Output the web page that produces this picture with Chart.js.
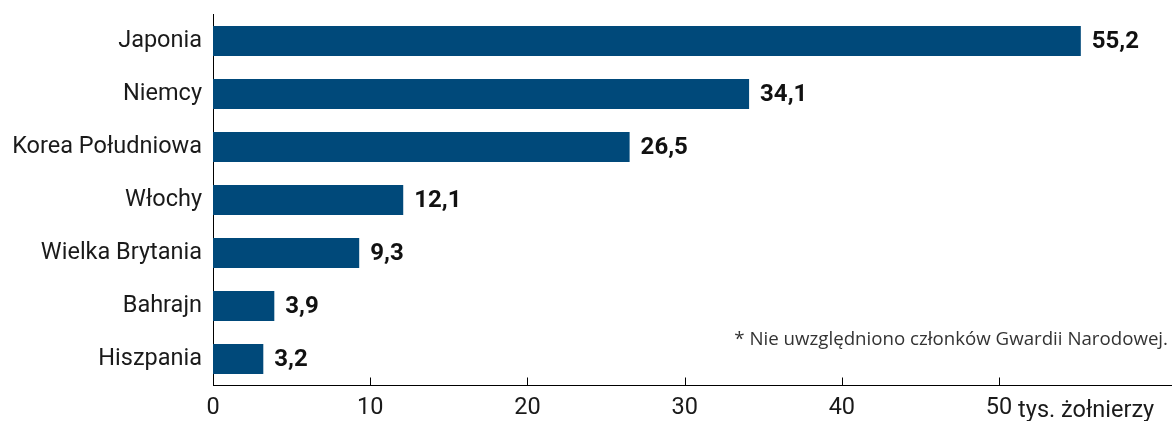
<!DOCTYPE html>
<html>
<head>
<meta charset="utf-8">
<script src="https://cdn.jsdelivr.net/npm/chart.js@4.4.1/dist/chart.umd.min.js"></script>
<style>
html,body{margin:0;padding:0;background:#fff;}
#wrap{width:1172px;height:421px;position:relative;}
</style>
</head>
<body>
<div id="wrap"><canvas id="c" width="1172" height="421"></canvas></div>
<script>
const categories = ["Japonia", "Niemcy", "Korea Południowa", "Włochy", "Wielka Brytania", "Bahrajn", "Hiszpania"];
const values = [55.2, 34.1, 26.5, 12.1, 9.3, 3.9, 3.2];
const tickValues = [0, 10, 20, 30, 40, 50];
const unitSuffix = " tys. żołnierzy";
const footnote = "* Nie uwzględniono członków Gwardii Narodowej.";

const BAR_COLOR = "#00497a";
const TEXT_COLOR = "#1a1a1a";
const LABEL_SIZE = 23.5;

const fmt = v => v.toFixed(1).replace(".", ",");

const overlay = {
  id: "overlay",
  afterDatasetsDraw(chart) {
    const ctx = chart.ctx;
    const meta = chart.getDatasetMeta(0);
    ctx.save();
    ctx.font = "bold 24px Roboto";
    ctx.fillStyle = "#111";
    ctx.textBaseline = "middle";
    ctx.textAlign = "left";
    meta.data.forEach((bar, i) => {
      ctx.fillText(fmt(values[i]), bar.x + 11, bar.y + 1);
    });
    ctx.restore();
  },
  afterDraw(chart) {
    const ctx = chart.ctx;
    const xs = chart.scales.x;
    const area = chart.chartArea;
    ctx.save();
    ctx.strokeStyle = "#000";
    ctx.lineWidth = 1;
    tickValues.forEach(v => {
      if (v === 0) return;
      const px = Math.round(xs.getPixelForValue(v)) + 0.5;
      ctx.beginPath();
      ctx.moveTo(px, area.bottom - 8);
      ctx.lineTo(px, area.bottom);
      ctx.stroke();
    });
    // unit suffix after the last tick label
    const last = tickValues[tickValues.length - 1];
    ctx.font = LABEL_SIZE + "px Roboto";
    const w = ctx.measureText(String(last)).width;
    ctx.fillStyle = TEXT_COLOR;
    ctx.textAlign = "left";
    ctx.textBaseline = "alphabetic";
    ctx.fillText(unitSuffix, xs.getPixelForValue(last) + w / 2, area.bottom + 31);
    // footnote
    ctx.font = "18.7px 'Open Sans'";
    ctx.fillStyle = "#333";
    ctx.textAlign = "right";
    ctx.fillText(footnote, 1168, 345);
    ctx.restore();
  }
};

new Chart(document.getElementById("c"), {
  type: "bar",
  data: {
    labels: categories,
    datasets: [{
      data: values,
      backgroundColor: BAR_COLOR,
      borderWidth: 0,
      barPercentage: 0.57,
      categoryPercentage: 1
    }]
  },
  options: {
    indexAxis: "y",
    responsive: false,
    animation: false,
    layout: { padding: { top: 14.5, right: 0, left: 0, bottom: 0 } },
    plugins: { legend: { display: false }, tooltip: { enabled: false } },
    scales: {
      x: {
        min: 0,
        max: 61,
        afterBuildTicks(scale) { scale.ticks = tickValues.map(v => ({ value: v })); },
        afterFit(scale) { scale.height = 35.5; scale.paddingLeft = 0; scale.paddingRight = 0; },
        grid: { display: false, drawTicks: false },
        border: { display: true, color: "#000", width: 1 },
        ticks: {
          font: { family: "Roboto", size: LABEL_SIZE },
          color: TEXT_COLOR,
          padding: 9,
          maxRotation: 0,
          autoSkip: false,
          callback: (v) => String(v)
        }
      },
      y: {
        afterFit(scale) { scale.width = 213; scale.paddingTop = 0; scale.paddingBottom = 0; },
        grid: { display: false, drawTicks: false },
        border: { display: true, color: "#000", width: 1 },
        ticks: {
          font: { family: "Roboto", size: LABEL_SIZE },
          color: TEXT_COLOR,
          padding: 11
        }
      }
    }
  },
  plugins: [overlay]
});
</script>
</body>
</html>
